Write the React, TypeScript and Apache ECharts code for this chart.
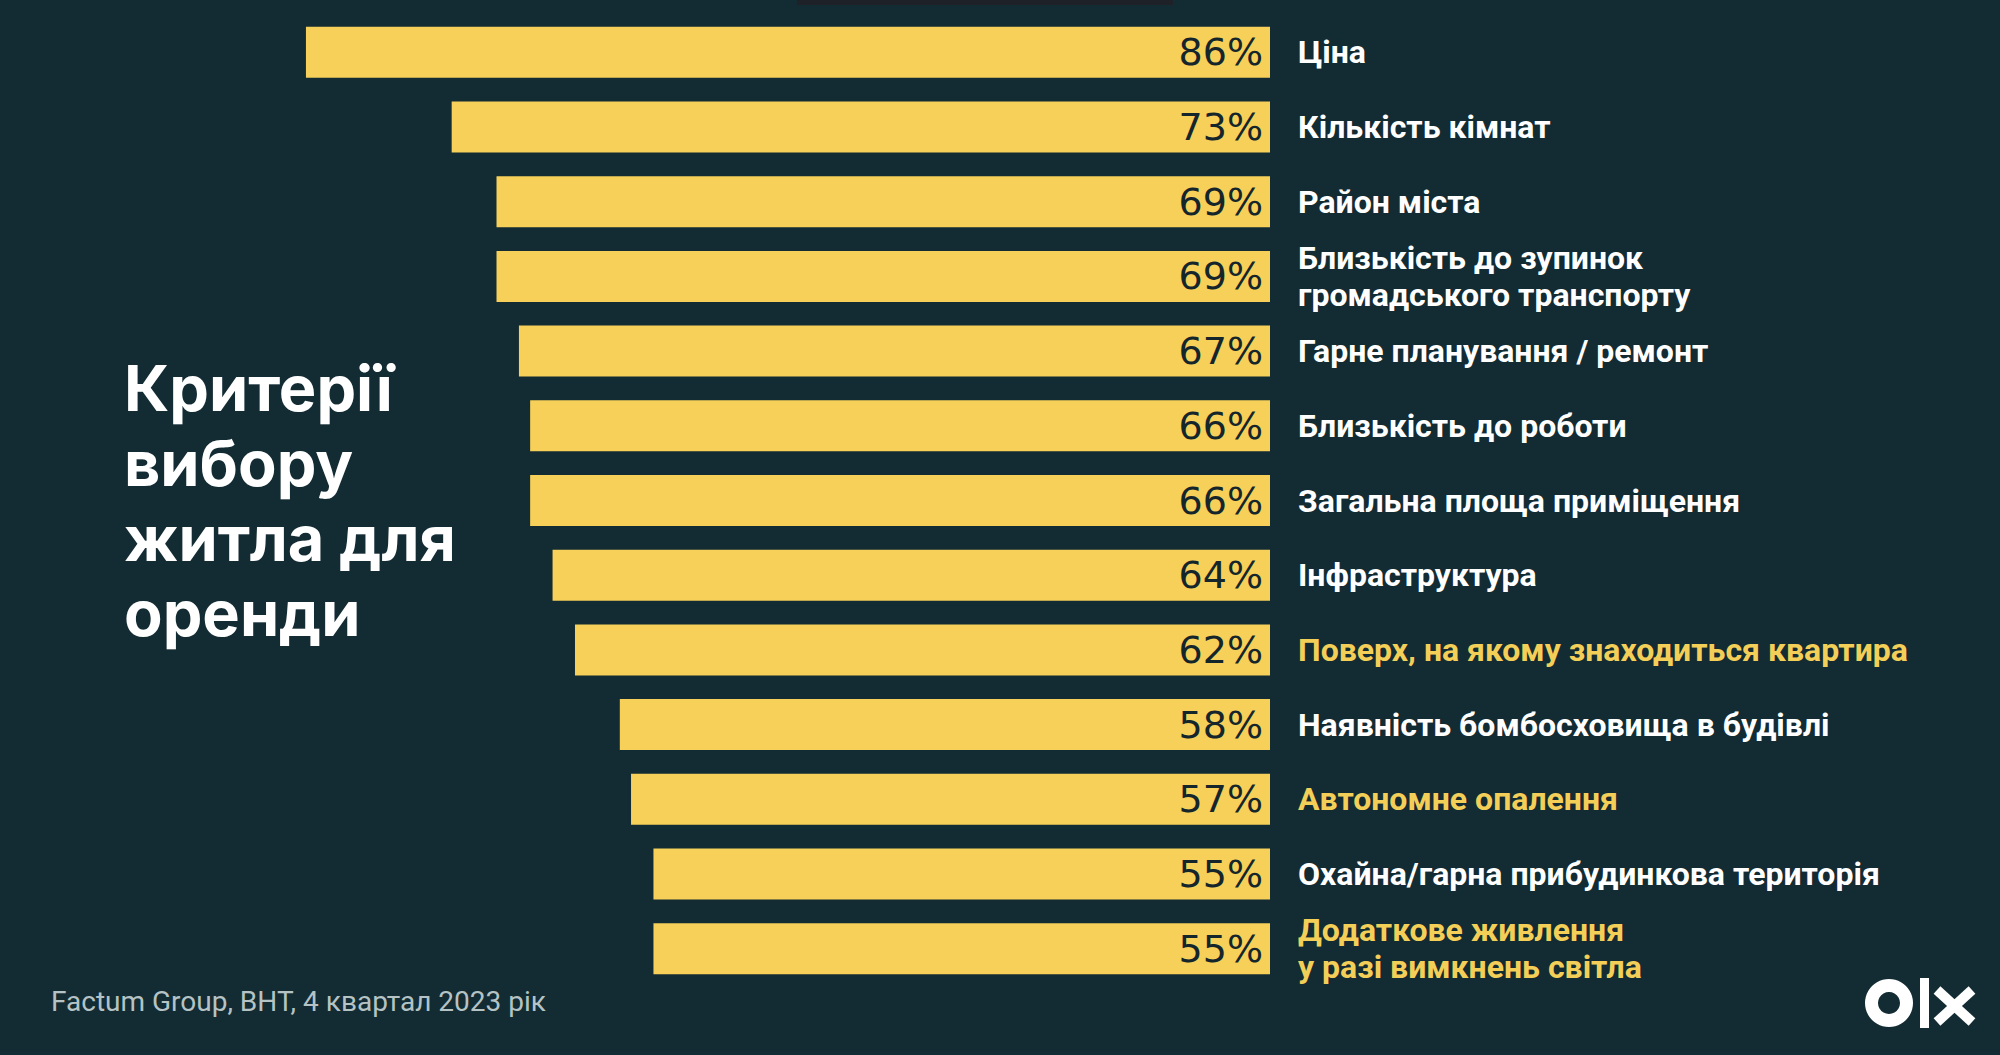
import React, { useEffect, useRef } from "react";
import * as echarts from "echarts";

const categories: string[] = [
  "Ціна",
  "Кількість кімнат",
  "Район міста",
  "Близькість до зупинок\nгромадського транспорту",
  "Гарне планування / ремонт",
  "Близькість до роботи",
  "Загальна площа приміщення",
  "Інфраструктура",
  "Поверх, на якому знаходиться квартира",
  "Наявність бомбосховища в будівлі",
  "Автономне опалення",
  "Охайна/гарна прибудинкова територія",
  "Додаткове живлення\nу разі вимкнень світла",
];
const values: number[] = [86, 73, 69, 69, 67, 66, 66, 64, 62, 58, 57, 55, 55];
const highlighted: string[] = [
  "Поверх, на якому знаходиться квартира",
  "Автономне опалення",
  "Додаткове живлення\nу разі вимкнень світла",
];

const titleText = "Критерії\nвибору\nжитла для\nоренди";
const sourceText = "Factum Group, ВНТ, 4 квартал 2023 рік";

const BG = "#132b33";
const BAR = "#f6d058";
const YELLOW = "#f3cf58";

export default function App() {
  const ref = useRef<HTMLDivElement>(null);
  useEffect(() => {
    if (!ref.current) return;
    const chart = echarts.init(ref.current, null, { renderer: "svg" });
    chart.setOption({
      animation: false,
      backgroundColor: BG,
      grid: { left: 149, right: 730, top: 15, bottom: 69 },
      xAxis: {
        type: "value",
        inverse: true,
        min: 0,
        max: 100,
        show: false,
      },
      yAxis: {
        type: "category",
        inverse: true,
        position: "right",
        data: categories.map((c) => ({
          value: c,
          textStyle: { color: highlighted.includes(c) ? YELLOW : "#ffffff" },
        })),
        axisLine: { show: false },
        axisTick: { show: false },
        splitLine: { show: false },
        axisLabel: {
          align: "left",
          margin: 28,
          fontFamily: "Roboto",
          fontWeight: "bold",
          fontSize: 32,
          lineHeight: 37,
          color: "#ffffff",
        },
      },
      series: [
        {
          type: "bar",
          data: values,
          barWidth: 51,
          itemStyle: { color: BAR },
          label: {
            show: true,
            position: "insideRight",
            distance: 7,
            formatter: "{c}%",
            fontFamily: "DejaVu Sans",
            fontSize: 38,
            color: "#14252b",
          },
        },
      ],
      graphic: [
        {
          type: "rect",
          shape: { x: 797, y: 0, width: 376, height: 5 },
          style: { fill: "#1e2127" },
        },
        {
          type: "text",
          left: 124,
          top: 350,
          style: {
            text: titleText,
            fill: "#ffffff",
            font: "bold 63px Inter",
            lineHeight: 75,
          },
        },
        {
          type: "text",
          left: 51,
          top: 987,
          style: {
            text: sourceText,
            fill: "#b5c3c4",
            font: "28px Roboto",
          },
        },
        {
          type: "ring",
          shape: { cx: 1889, cy: 1003, r: 24, r0: 11 },
          style: { fill: "#ffffff" },
        },
        {
          type: "rect",
          shape: { x: 1920, y: 978, width: 9, height: 50 },
          style: { fill: "#ffffff" },
        },
        {
          type: "line",
          shape: { x1: 1937, y1: 990, x2: 1972, y2: 1022 },
          style: { stroke: "#ffffff", lineWidth: 10 },
        },
        {
          type: "line",
          shape: { x1: 1972, y1: 990, x2: 1937, y2: 1022 },
          style: { stroke: "#ffffff", lineWidth: 10 },
        },
      ],
    });
    return () => chart.dispose();
  }, []);
  return (
    <div
      ref={ref}
      style={{ position: "fixed", left: 0, top: 0, width: 2000, height: 1055, background: BG }}
    />
  );
}
